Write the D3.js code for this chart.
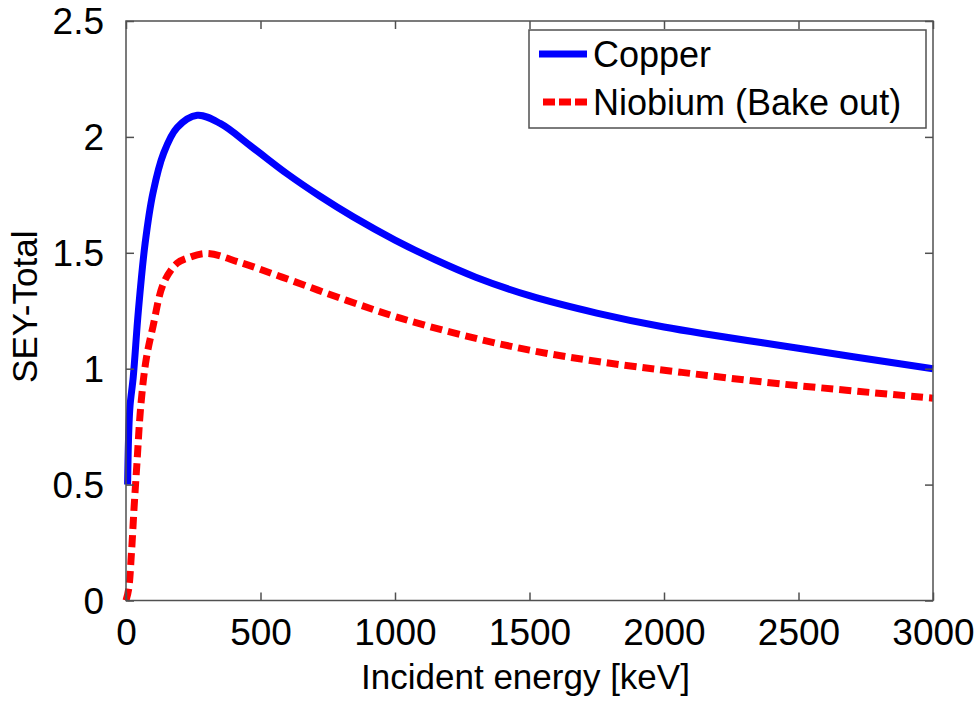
<!DOCTYPE html>
<html>
<head>
<meta charset="utf-8">
<script src="https://cdn.jsdelivr.net/npm/d3@7"></script>
<style>
  body { margin: 0; background: #fff; }
  svg { font-family: "Liberation Sans", Arial, sans-serif; }
</style>
</head>
<body>
<svg id="chart" width="979" height="702"></svg>
<script>
// energy [keV] and SEY values
const copperEnergy = [6, 10, 15, 27, 46, 71, 100, 140, 190, 265, 350, 470, 600, 720, 845, 1000, 1150, 1300, 1500, 1750, 2000, 2500, 3000]
const copperSey = [0.50, 0.72, 0.84, 0.965, 1.25, 1.54, 1.757, 1.93, 2.04, 2.093, 2.058, 1.955, 1.84, 1.745, 1.655, 1.555, 1.47, 1.395, 1.315, 1.24, 1.18, 1.088, 1.0]
const niobiumEnergy = [0, 10, 20, 30, 40, 55, 75, 100, 140, 190, 230, 300, 420, 580, 820, 1020, 1250, 1500, 1760, 2060, 2430, 3000]
const niobiumSey = [0, 0.05, 0.2, 0.4, 0.58, 0.84, 1.04, 1.18, 1.37, 1.455, 1.478, 1.497, 1.46, 1.395, 1.295, 1.218, 1.145, 1.08, 1.03, 0.985, 0.935, 0.873]
const xTicks = [0, 500, 1000, 1500, 2000, 2500, 3000]
const yTicks = [0, 0.5, 1, 1.5, 2, 2.5]
const seriesNames = ['Copper', 'Niobium (Bake out)']

const plotLeft = 126, plotRight = 933, plotTop = 21, plotBottom = 600.5

const svg = d3.select('#chart')

const x = d3.scaleLinear().domain([0, 3000]).range([plotLeft, plotRight])
const y = d3.scaleLinear().domain([0, 2.5]).range([plotBottom, plotTop])

const copper = copperEnergy.map((e, i) => [e, copperSey[i]])
const niobium = niobiumEnergy.map((e, i) => [e, niobiumSey[i]])

const line = d3.line()
  .x(d => x(d[0]))
  .y(d => y(d[1]))
  .curve(d3.curveCatmullRom.alpha(0.5))

// curves
svg.append('path')
  .datum(niobium)
  .attr('d', line)
  .attr('fill', 'none')
  .attr('stroke', '#ff0000')
  .attr('stroke-width', 7)
  .attr('stroke-dasharray', '12,6')

svg.append('path')
  .datum(copper)
  .attr('d', line)
  .attr('fill', 'none')
  .attr('stroke', '#0000ff')
  .attr('stroke-width', 7)

// frame with inward ticks on all sides
const axisColor = '#505050'
const tickLen = 8
const fmt = d => String(d)

svg.append('rect')
  .attr('x', plotLeft).attr('y', plotTop)
  .attr('width', plotRight - plotLeft).attr('height', plotBottom - plotTop)
  .attr('fill', 'none')
  .attr('stroke', axisColor)
  .attr('stroke-width', 1.5)

const xAxisB = svg.append('g').attr('transform', `translate(0,${plotBottom})`)
  .call(d3.axisBottom(x).tickValues(xTicks).tickFormat(fmt).tickSizeInner(-tickLen).tickSizeOuter(0))
const xAxisT = svg.append('g').attr('transform', `translate(0,${plotTop})`)
  .call(d3.axisTop(x).tickValues(xTicks).tickSizeInner(-tickLen).tickSizeOuter(0).tickFormat(''))
const yAxisL = svg.append('g').attr('transform', `translate(${plotLeft},0)`)
  .call(d3.axisLeft(y).tickValues(yTicks).tickFormat(fmt).tickSizeInner(-tickLen).tickSizeOuter(0).tickPadding(tickLen + 14))
const yAxisR = svg.append('g').attr('transform', `translate(${plotRight},0)`)
  .call(d3.axisRight(y).tickValues(yTicks).tickSizeInner(-tickLen).tickSizeOuter(0).tickFormat(''))

for (const g of [xAxisB, xAxisT, yAxisL, yAxisR]) {
  g.select('.domain').remove()
  g.selectAll('.tick line').attr('stroke', axisColor).attr('stroke-width', 1.5)
  g.selectAll('.tick text')
    .attr('fill', '#000')
    .style('font-size', '37px')
    .style('font-family', '"Liberation Sans", Arial, sans-serif')
}
xAxisB.selectAll('.tick text').attr('dy', 0).attr('y', 645 - plotBottom)
yAxisL.selectAll('.tick text').attr('dy', '0.35em')

// axis labels
svg.append('text')
  .attr('x', (plotLeft + plotRight) / 2 - 4)
  .attr('y', 689)
  .attr('text-anchor', 'middle')
  .style('font-size', '35px')
  .text('Incident energy [keV]')

svg.append('text')
  .attr('transform', `translate(37,${(plotTop + plotBottom) / 2 - 4}) rotate(-90)`)
  .attr('text-anchor', 'middle')
  .style('font-size', '35px')
  .text('SEY-Total')

// legend
const legend = svg.append('g')
legend.append('rect')
  .attr('x', 529).attr('y', 30)
  .attr('width', 397).attr('height', 98)
  .attr('fill', '#fff')
  .attr('stroke', axisColor)
  .attr('stroke-width', 1.5)

const legendColors = ['#0000ff', '#ff0000']
const legendDash = [null, '12,4']
seriesNames.forEach((name, i) => {
  const ly = 54 + i * 48
  legend.append('line')
    .attr('x1', i === 0 ? 539 : 543).attr('x2', 587)
    .attr('y1', ly).attr('y2', ly)
    .attr('stroke', legendColors[i])
    .attr('stroke-width', 7)
    .attr('stroke-dasharray', legendDash[i])
  legend.append('text')
    .attr('x', 593)
    .attr('y', ly + 13)
    .style('font-size', '36px')
    .text(name)
})
</script>
</body>
</html>
